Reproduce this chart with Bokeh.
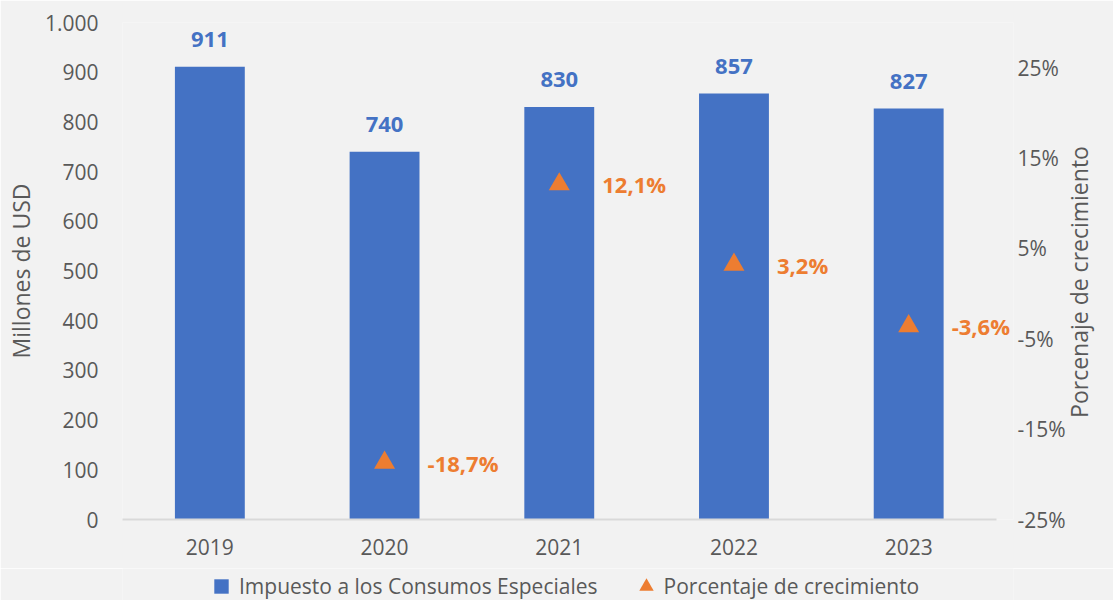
import math
from bokeh.plotting import figure
from bokeh.layouts import column
from bokeh.models import (Range1d, LinearAxis, FixedTicker, ColumnDataSource, Legend,
                          LegendItem, PrintfTickFormatter)
from bokeh.core.properties import value
from bokeh.embed import file_html
from bokeh.resources import INLINE

# ---- data ----
years = ["2019", "2020", "2021", "2022", "2023"]
ice_values = [911, 740, 830, 857, 827]
growth_years = ["2020", "2021", "2022", "2023"]
growth_values = [-18.7, 12.1, 3.2, -3.6]
left_ticks = [0, 100, 200, 300, 400, 500, 600, 700, 800, 900, 1000]
right_ticks = [-25, -15, -5, 5, 15, 25]

BLUE = "#4472C4"
ORANGE = "#ED7D31"
GREY = "#595959"
BG = "#F2F2F2"
FONT = "Open Sans"

xs = list(range(len(years)))
bar_src = ColumnDataSource(dict(
    x=xs, ice=ice_values,
    lbl=[f"{v:,}".replace(",", ".") for v in ice_values]))
gr_src = ColumnDataSource(dict(
    x=[years.index(y) for y in growth_years], g=growth_values,
    lbl=[f"{v:.1f}%".replace(".", ",") for v in growth_values]))

p = figure(x_range=Range1d(-0.5, len(years) - 0.4), y_range=Range1d(0, 1000),
           width=1113, height=568, output_backend="svg", toolbar_location=None,
           min_border_left=122, min_border_right=98, min_border_top=22, min_border_bottom=49,
           background_fill_color=BG, border_fill_color=BG, outline_line_color=None)
p.extra_y_ranges = {"pct": Range1d(-25, 30)}

bars = p.vbar(x="x", top="ice", width=0.4, source=bar_src,
              fill_color=BLUE, line_color=None)
tri = p.scatter(x="x", y="g", source=gr_src, y_range_name="pct", marker="triangle",
                size=21, fill_color=ORANGE, line_color=None)

p.text(x="x", y="ice", text="lbl", source=bar_src, y_offset=-27,
       text_align="center", text_baseline="middle", text_font=value(FONT),
       text_font_style="bold", text_font_size="22px", text_color=BLUE)
p.text(x="x", y="g", text="lbl", source=gr_src, y_range_name="pct", x_offset=43, y_offset=0,
       text_align="left", text_baseline="middle", text_font=value(FONT),
       text_font_style="bold", text_font_size="22px", text_color=ORANGE)

p.xgrid.visible = False
p.ygrid.visible = False

# x axis
xa = p.xaxis[0]
xa.ticker = FixedTicker(ticks=xs)
xa.major_label_overrides = {i: y for i, y in zip(xs, years)}
xa.bounds = (-0.5, len(years) - 0.5)
xa.axis_line_color = "#D9D9D9"
xa.axis_line_width = 2
xa.major_tick_line_color = None
xa.minor_tick_line_color = None
xa.major_tick_out = 0
xa.major_tick_in = 0
xa.major_label_text_font = FONT
xa.major_label_text_font_size = "21px"
xa.major_label_text_color = GREY
xa.major_label_standoff = 19

# left axis
ya = p.yaxis[0]
ya.ticker = FixedTicker(ticks=left_ticks)
ya.major_label_overrides = {1000: "1.000"}
ya.axis_line_color = None
ya.major_tick_line_color = None
ya.minor_tick_line_color = None
ya.major_tick_out = 0
ya.major_tick_in = 0
ya.major_label_text_font = FONT
ya.major_label_text_font_size = "21px"
ya.major_label_text_color = GREY
ya.major_label_standoff = 24
ya.axis_label = "Millones de USD"
ya.axis_label_text_font = FONT
ya.axis_label_text_font_style = "normal"
ya.axis_label_text_font_size = "23px"
ya.axis_label_text_color = GREY
ya.axis_label_standoff = 5

# right axis (ticks)
ra = LinearAxis(y_range_name="pct", ticker=FixedTicker(ticks=right_ticks),
                formatter=PrintfTickFormatter(format="%d%%"))
ra.axis_line_color = None
ra.major_tick_line_color = None
ra.minor_tick_line_color = None
ra.major_tick_out = 0
ra.major_tick_in = 0
ra.major_label_text_font = FONT
ra.major_label_text_font_size = "21px"
ra.major_label_text_color = GREY
ra.major_label_standoff = 4
p.add_layout(ra, "right")

# right axis title (reads bottom-to-top, starting a little below the middle)
ta = LinearAxis(y_range_name="pct", ticker=FixedTicker(ticks=[]))
ta.axis_line_color = None
ta.major_tick_line_color = None
ta.minor_tick_line_color = None
ta.major_tick_out = 0
ta.major_tick_in = 0
ta.major_label_standoff = 0
ta.axis_label = "\u00a0" * 17 + "Porcenaje de crecimiento"
ta.axis_label_align = "start"
ta.axis_label_text_font = FONT
ta.axis_label_text_font_style = "normal"
ta.axis_label_text_font_size = "23px"
ta.axis_label_text_color = GREY
ta.axis_label_standoff = 10
ta.axis_label_orientation = math.pi / 2
p.add_layout(ta, "right")

# legend strip (separate small figure under the chart)
lf = figure(width=1113, height=32, output_backend="svg", toolbar_location=None,
            x_axis_type=None, y_axis_type=None, x_range=Range1d(-0.5, len(years) - 0.4),
            y_range=Range1d(0, 1000), min_border=0,
            background_fill_color=BG, border_fill_color=BG, outline_line_color=None)
lf.xgrid.visible = False
lf.ygrid.visible = False
sq_l = lf.scatter(x="x", y="ice", source=bar_src, marker="square", size=0,
                  fill_color=BLUE, line_color=None)
tri_l = lf.scatter(x="x", y="ice", source=bar_src, marker="triangle", size=0,
                   fill_color=ORANGE, line_color=None)
leg = Legend(items=[LegendItem(label="Impuesto a los Consumos Especiales", renderers=[sq_l]),
                    LegendItem(label="Porcentaje de crecimiento", renderers=[tri_l])],
             location=(81, -4), orientation="horizontal", glyph_width=36, glyph_height=36,
             padding=0, margin=0, spacing=30, label_standoff=0, label_text_font=FONT,
             label_text_font_size="21px", label_text_color=GREY,
             background_fill_alpha=0, border_line_color=None)
lf.add_layout(leg, "center")

layout = column(p, lf, spacing=0)
open("out.html", "w").write(file_html(layout, INLINE))
